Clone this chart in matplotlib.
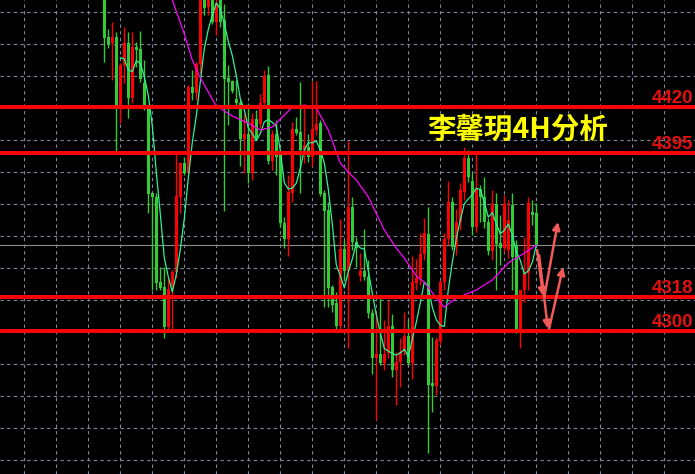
import numpy as np
import pandas as pd
import matplotlib
matplotlib.use("Agg")
import matplotlib.pyplot as plt

# 4H candles (red = up, green = down)
opens = [4487.9, 4457.4, 4454.2, 4457.4, 4420.9, 4442.3, 4454.1, 4424.6, 4452.0, 4450.9,
         4432.7, 4419.3, 4373.7, 4371.6, 4326.0, 4323.3, 4301.9, 4323.9, 4331.4, 4371.6,
         4389.8, 4384.4, 4430.6, 4427.3, 4442.9, 4484.0, 4473.4, 4483.0, 4465.4, 4481.0,
         4466.5, 4435.4, 4433.8, 4424.1, 4422.0, 4402.7, 4405.4, 4384.4, 4413.4, 4410.7,
         4422.0, 4437.0, 4390.9, 4405.4, 4394.1, 4357.6, 4349.1, 4373.7, 4408.0, 4406.4,
         4396.8, 4398.4, 4393.0, 4407.5, 4411.3, 4373.7, 4364.6, 4323.3, 4314.7, 4302.4,
         4343.7, 4331.9, 4366.2, 4347.4, 4329.2, 4331.9, 4328.7, 4309.4, 4285.2, 4287.4,
         4282.6, 4287.9, 4302.4, 4278.8, 4283.1, 4288.5, 4297.0, 4282.6, 4325.4, 4328.1,
         4341.0, 4351.7, 4271.8, 4270.2, 4294.4, 4326.0, 4349.1, 4368.9, 4344.8, 4358.2,
         4374.3, 4392.5, 4380.2, 4355.5, 4375.9, 4371.6, 4358.2, 4342.6, 4367.8, 4346.9,
         4344.2, 4343.2, 4367.3, 4345.3, 4300.3, 4321.7, 4330.8, 4363.5, 4363.0]
highs = [4490.6, 4461.7, 4465.4, 4460.0, 4443.4, 4462.7, 4460.0, 4460.0, 4454.7, 4460.6,
         4445.0, 4419.8, 4374.3, 4373.7, 4334.0, 4334.0, 4328.1, 4332.4, 4396.2, 4390.3,
         4393.0, 4431.6, 4439.7, 4443.9, 4486.0, 4488.0, 4485.0, 4487.0, 4478.0, 4484.0,
         4475.1, 4442.3, 4434.3, 4434.3, 4423.6, 4416.6, 4422.0, 4416.6, 4418.2, 4426.8,
         4439.7, 4441.8, 4407.5, 4412.9, 4396.8, 4360.8, 4383.4, 4411.8, 4414.5, 4433.2,
         4420.4, 4405.4, 4433.8, 4433.8, 4412.9, 4375.3, 4368.9, 4324.4, 4320.6, 4359.8,
         4348.5, 4401.6, 4371.6, 4350.0, 4341.6, 4354.4, 4337.8, 4311.5, 4309.4, 4317.4,
         4305.6, 4316.4, 4308.8, 4288.5, 4296.0, 4309.9, 4305.6, 4339.9, 4338.3, 4352.3,
         4360.3, 4366.2, 4296.5, 4296.5, 4327.1, 4352.3, 4380.2, 4371.6, 4365.1, 4379.1,
         4398.4, 4396.8, 4384.4, 4395.7, 4378.0, 4382.3, 4360.3, 4375.3, 4373.7, 4362.0,
         4372.6, 4370.0, 4373.7, 4348.5, 4321.7, 4350.1, 4371.6, 4370.0, 4368.3]
lows = [4444.0, 4451.5, 4434.3, 4395.2, 4411.3, 4432.7, 4413.9, 4422.0, 4441.3, 4433.2,
        4418.2, 4363.0, 4321.7, 4321.7, 4321.7, 4296.0, 4300.3, 4300.3, 4328.1, 4363.0,
        4383.4, 4383.4, 4423.6, 4423.6, 4438.1, 4469.2, 4469.2, 4464.3, 4458.4, 4462.7,
        4364.1, 4410.2, 4427.3, 4419.8, 4388.2, 4384.4, 4379.1, 4380.7, 4402.1, 4408.6,
        4420.9, 4389.3, 4386.0, 4383.4, 4355.5, 4344.2, 4339.9, 4368.9, 4404.8, 4373.7,
        4389.8, 4390.3, 4388.2, 4404.8, 4372.1, 4312.6, 4312.6, 4309.9, 4300.8, 4300.3,
        4327.1, 4290.6, 4343.2, 4334.0, 4326.5, 4327.1, 4306.7, 4276.7, 4252.0, 4281.5,
        4278.8, 4285.2, 4275.1, 4260.0, 4269.7, 4286.9, 4281.5, 4274.0, 4321.7, 4324.4,
        4337.8, 4234.3, 4256.3, 4265.4, 4292.2, 4321.7, 4345.8, 4343.2, 4340.5, 4353.9,
        4370.0, 4379.6, 4351.2, 4352.8, 4358.2, 4355.0, 4340.5, 4337.8, 4321.7, 4335.1,
        4342.1, 4338.9, 4321.7, 4298.6, 4290.6, 4315.3, 4321.7, 4356.6, 4345.8]
closes = [4456.8, 4453.6, 4457.4, 4420.9, 4442.3, 4454.1, 4424.6, 4452.0, 4450.4, 4434.8,
          4419.3, 4373.2, 4371.6, 4325.5, 4322.8, 4301.9, 4322.2, 4331.4, 4372.1, 4389.8,
          4384.4, 4430.6, 4427.3, 4442.9, 4482.0, 4472.9, 4482.0, 4465.4, 4475.6, 4465.4,
          4434.8, 4433.2, 4428.4, 4422.0, 4402.7, 4405.4, 4384.4, 4413.4, 4403.2, 4422.0,
          4436.4, 4390.9, 4405.4, 4393.0, 4357.6, 4349.1, 4374.3, 4408.0, 4405.9, 4396.8,
          4399.5, 4393.0, 4408.0, 4410.7, 4373.2, 4364.1, 4322.8, 4313.7, 4302.4, 4343.7,
          4331.9, 4366.2, 4347.4, 4344.0, 4331.9, 4328.7, 4309.4, 4285.2, 4287.4, 4282.6,
          4287.4, 4302.4, 4278.8, 4283.1, 4288.5, 4297.0, 4282.6, 4326.0, 4328.1, 4341.0,
          4352.3, 4270.8, 4270.2, 4294.9, 4326.0, 4349.1, 4368.9, 4344.8, 4358.2, 4375.3,
          4392.5, 4382.3, 4355.5, 4375.9, 4371.6, 4358.2, 4342.6, 4367.8, 4346.4, 4344.2,
          4367.8, 4359.2, 4339.4, 4300.3, 4321.7, 4330.8, 4368.3, 4361.9, 4345.8]

# slow moving average (magenta), read at some bars
slow_idx = [15, 17, 20, 22, 24, 28, 32, 36, 39, 42, 45, 47, 50, 53, 56, 59, 61, 63, 66,
            70, 73, 75, 78, 80, 83, 85, 88, 93, 97, 101, 105, 108]
slow_val = [4483.6, 4477.2, 4459.0, 4445.0, 4435.4, 4420.4, 4415.0, 4411.2, 4407.5,
            4409.1, 4415.5, 4419.8, 4420.9, 4419.3, 4407.5, 4389.8, 4385.0, 4380.7,
            4371.6, 4353.9, 4344.2, 4338.9, 4329.2, 4326.0, 4317.4, 4312.6, 4317.4,
            4321.7, 4327.1, 4336.2, 4341.5, 4345.8]

levels = [4420, 4395, 4318, 4300]
title = "李馨玥4H分析"

# projected path: (from bar, from price) -> (to bar, to price)
arrows = [((108.2, 4343.2), (109.7, 4318.5)),
          ((108.7, 4340.5), (110.9, 4301.0)),
          ((110.0, 4318.0), (113.4, 4358.2)),
          ((111.2, 4301.0), (114.7, 4334.0))]

opens = np.array(opens)
closes = np.array(closes)
idx = np.arange(len(closes))
fast = pd.Series(closes).rolling(5).mean()

fig = plt.figure(figsize=(6.95, 4.74), dpi=100, facecolor="black")
ax = fig.add_axes([0, 0, 1, 1])
ax.set_facecolor("black")
ax.set_xlim(-26.075, 147.675)
ax.set_ylim(4223.1, 4477.2)
ax.axis("off")

# grid like the terminal: every 32 px
grid_col = "#7d8a99"
for gx in np.arange(-20, 148, 8):
    ax.axvline(gx, color=grid_col, lw=0.8, ls=(0, (3, 3)), zorder=0)
for gy in 4470.6 - 17.155 * np.arange(0, 15):
    ax.axhline(gy, color=grid_col, lw=0.8, ls=(0, (3, 3)), zorder=0)

# last price line
ax.axhline(closes[-1], color="#8c8c8c", lw=0.8, zorder=1)

up = closes >= opens
cols = np.where(up, "#ff0000", "#32cd32")
ax.vlines(idx, lows, highs, colors=cols, lw=1.0, zorder=2)
body_lo = np.minimum(opens, closes)
body_h = np.maximum(np.abs(closes - opens), 0.8)
ax.bar(idx, body_h, bottom=body_lo, width=0.85, color=cols, linewidth=0, zorder=2)

ax.plot(idx, fast, color="#2ef29a", lw=0.9, zorder=3)
ax.plot(slow_idx, slow_val, color="#ff00ff", lw=0.9, zorder=3)

ytr = ax.get_yaxis_transform()
for lv in levels:
    ax.axhline(lv, color="#ff0000", lw=1.5, antialiased=False, zorder=4)
    ax.annotate(str(lv), xy=(0.997, lv), xycoords=ytr, xytext=(0, 4),
                textcoords="offset pixels", ha="right", va="baseline",
                color="#e41010", fontsize=13.5, fontweight="bold",
                family="Liberation Sans", zorder=5)

for (x0, y0), (x1, y1) in arrows:
    ax.annotate("", xy=(x1, y1), xytext=(x0, y0),
                arrowprops=dict(arrowstyle="-|>", color="#f25a5a", lw=1.8,
                                mutation_scale=11, shrinkA=0, shrinkB=0),
                zorder=6)

fig.text(427 / 695, 1 - 130 / 474, title, color="#ffff00", fontsize=20.5,
         fontweight="bold", va="center", ha="left",
         family=["Noto Sans CJK SC", "DejaVu Sans"])

fig.savefig("out.png", dpi=100, facecolor="black")
